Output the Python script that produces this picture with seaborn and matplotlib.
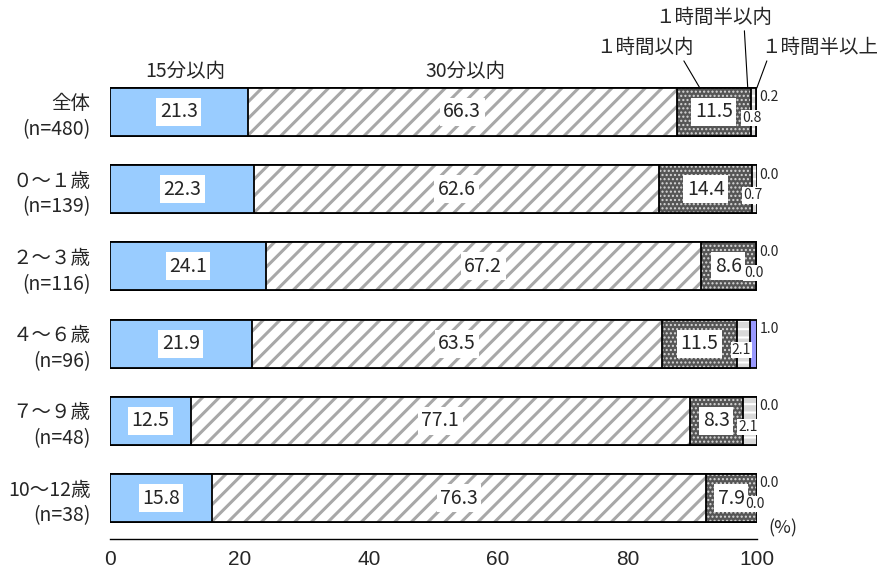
import numpy as np
import pandas as pd
import matplotlib
matplotlib.use("Agg")
import matplotlib.pyplot as plt
import seaborn as sns

# Commute / travel time distribution by child age group (%)
categories = ["全体", "０～１歳", "２～３歳", "４～６歳", "７～９歳", "10～12歳"]
sample_sizes = [480, 139, 116, 96, 48, 38]
segment_names = ["15分以内", "30分以内", "１時間以内", "１時間半以内", "１時間半以上"]
within_15min = [21.3, 22.3, 24.1, 21.9, 12.5, 15.8]
within_30min = [66.3, 62.6, 67.2, 63.5, 77.1, 76.3]
within_1h = [11.5, 14.4, 8.6, 11.5, 8.3, 7.9]
within_1h30 = [0.8, 0.7, 0.0, 2.1, 2.1, 0.0]
over_1h30 = [0.2, 0.0, 0.0, 1.0, 0.0, 0.0]
x_ticks = [0, 20, 40, 60, 80, 100]

sns.set_theme(style="white")
plt.rcParams["font.family"] = ["Noto Sans CJK JP", "DejaVu Sans"]

values = np.array([within_15min, within_30min, within_1h, within_1h30, over_1h30])
cum_right = values.cumsum(axis=0)
cum_left = cum_right - values

styles = [
    dict(face="#99ccff", hatch=None, hcol="#99ccff", hlw=1.0),
    dict(face="white", hatch="//", hcol="#a8a8a8", hlw=2.2),
    dict(face="#555555", hatch="....", hcol="#d8d8d8", hlw=1.0),
    dict(face="#d9d9d9", hatch="--", hcol="white", hlw=1.5),
    dict(face="#9999ff", hatch=None, hcol="#9999ff", hlw=1.0),
]

fig = plt.figure(figsize=(8.8, 5.71), dpi=100)
fig.patch.set_facecolor("white")
ax = fig.add_axes([0.125, 0.056, 0.735, 0.829])

df = pd.DataFrame({"category": categories})
bar_w = 0.62
# stacked bars: draw cumulative totals from the outermost segment inwards
for i in reversed(range(len(segment_names))):
    df["right"] = cum_right[i]
    st = styles[i]
    with plt.rc_context({"hatch.linewidth": st["hlw"]}):
        sns.barplot(data=df, x="right", y="category", orient="h",
                    color=st["face"], saturation=1, width=bar_w,
                    errorbar=None, hatch=st["hatch"], edgecolor=st["hcol"],
                    linewidth=0, ax=ax)
    sns.barplot(data=df, x="right", y="category", orient="h",
                color="black", fill=False, saturation=1, width=bar_w,
                errorbar=None, linewidth=1.3, ax=ax)

box = dict(facecolor="white", edgecolor="none", pad=2.5)
small_box = dict(facecolor="white", edgecolor="none", pad=0.8)
for r in range(len(categories)):
    for s in range(3):
        v = values[s, r]
        ax.text(cum_left[s, r] + v / 2, r, f"{v:.1f}", ha="center", va="center",
                fontsize=14, bbox=box, zorder=5)
    v = values[3, r]
    ax.text(cum_left[3, r] + v / 2 - 0.3, r + 0.08, f"{v:.1f}", ha="center",
            va="center", fontsize=10, bbox=small_box, zorder=5)
    v = values[4, r]
    ax.text(100.4, r - 0.19, f"{v:.1f}", ha="left", va="center",
            fontsize=10, bbox=small_box, zorder=5)

# segment names above the first bar
ax.text(11.6, -0.52, segment_names[0], ha="center", va="center", fontsize=14)
ax.text(54.9, -0.52, segment_names[1], ha="center", va="center", fontsize=14)
leader = dict(arrowstyle="-", color="black", lw=0.8, shrinkA=0, shrinkB=0)
ax.annotate(segment_names[2], xy=(91.2, -0.31), xytext=(82.7, -0.84),
            ha="center", va="center", fontsize=14,
            arrowprops=dict(leader, relpos=(0.88, 0.0)))
ax.annotate(segment_names[3], xy=(98.6, -0.31), xytext=(93.35, -1.23),
            ha="center", va="center", fontsize=14,
            arrowprops=dict(leader, relpos=(0.76, 0.0)))
ax.annotate(segment_names[4], xy=(100.0, -0.31), xytext=(109.7, -0.84),
            ha="center", va="center", fontsize=14, annotation_clip=False,
            arrowprops=dict(leader, relpos=(0.06, 0.0)))
ax.text(104, 5.39, "(%)", ha="center", va="center", fontsize=13)

ax.set_xlim(0, 100)
ax.set_ylim(5.53, -0.6)
ax.set_xticks(x_ticks)
ax.set_xticklabels([str(t) for t in x_ticks], fontsize=15,
                   family=["Liberation Sans", "DejaVu Sans"])
ax.set_yticks(range(len(categories)))
ax.set_yticklabels([f"{c}\n(n={n})" for c, n in zip(categories, sample_sizes)],
                   fontsize=14, linespacing=1.3, ha="right")
ax.set_xlabel("")
ax.set_ylabel("")
for side in ["top", "right", "left"]:
    ax.spines[side].set_visible(False)
ax.spines["bottom"].set_color("black")
ax.spines["bottom"].set_linewidth(1.0)
ax.tick_params(axis="x", direction="out", length=7, width=1.0, color="black", pad=1)
ax.tick_params(axis="y", length=0, pad=14)
ax.set_facecolor("white")

fig.savefig("out.png", dpi=100, facecolor="white")
